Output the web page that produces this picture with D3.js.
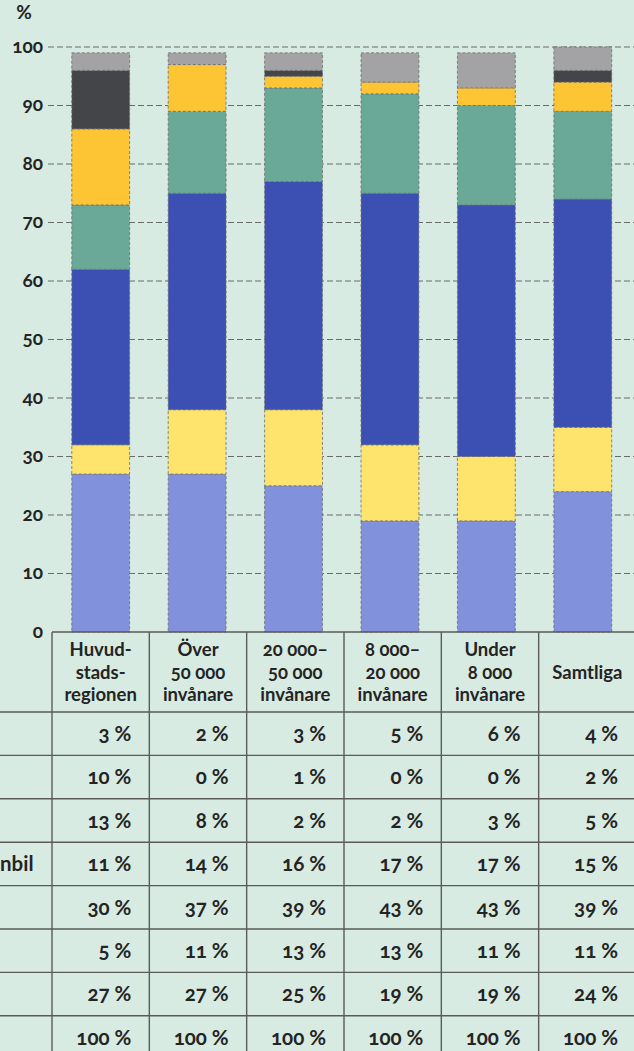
<!DOCTYPE html>
<html>
<head>
<meta charset="utf-8">
<script src="https://cdn.jsdelivr.net/npm/d3@7/dist/d3.min.js"></script>
<style>
  html, body { margin: 0; padding: 0; background: #d8ebe2; }
  svg { display: block; }
  text { font-family: "Lato", "Open Sans", sans-serif; fill: #242424; font-variant-numeric: oldstyle-nums; font-feature-settings: "onum" 1; }
</style>
</head>
<body>
<svg id="chart" width="634" height="1051"></svg>
<script>
// ---- data ----
const categories = ["Huvudstadsregionen", "Över 50 000 invånare", "20 000–50 000 invånare", "8 000–20 000 invånare", "Under 8 000 invånare", "Samtliga"];
const headerLines = [
  ["Huvud-", "stads-", "regionen"],
  ["Över", "50 000", "invånare"],
  ["20 000–", "50 000", "invånare"],
  ["8 000–", "20 000", "invånare"],
  ["Under", "8 000", "invånare"],
  ["Samtliga"]
];
// table rows, top to bottom (stack order is bottom to top = reversed)
const rowLabels = ["", "", "", "nbil", "", "", ""];
const series1 = [3, 2, 3, 5, 6, 4];       // gray
const series2 = [10, 0, 1, 0, 0, 2];      // dark gray
const series3 = [13, 8, 2, 2, 3, 5];      // orange yellow
const series4 = [11, 14, 16, 17, 17, 15]; // teal
const series5 = [30, 37, 39, 43, 43, 39]; // dark blue
const series6 = [5, 11, 13, 13, 11, 11];  // light yellow
const series7 = [27, 27, 25, 19, 19, 24]; // light blue
const totals = [100, 100, 100, 100, 100, 100];
const yTicks = [0, 10, 20, 30, 40, 50, 60, 70, 80, 90, 100];

const rows = [series1, series2, series3, series4, series5, series6, series7];
const colors = ["#a3a3a5", "#444548", "#fdc433", "#6aa997", "#3b50b2", "#fee36c", "#8191dc"];

// ---- layout ----
const svg = d3.select("#chart");
const y = d3.scaleLinear().domain([0, 100]).range([632, 47]);
const xBar = d3.scaleBand().domain(categories).range([52.5, 631]).paddingInner(0.4).paddingOuter(0.2);
const xCol = d3.scaleBand().domain(categories).range([52, 636]).padding(0);

// grid lines
svg.append("g").selectAll("line").data(yTicks.filter(d => d > 0)).join("line")
  .attr("x1", 48).attr("x2", 634)
  .attr("y1", d => y(d)).attr("y2", d => y(d))
  .attr("stroke", "#6a6a6a").attr("stroke-width", 1.1).attr("stroke-dasharray", "6,3");

// y axis labels
svg.append("g").selectAll("text").data(yTicks).join("text")
  .attr("x", 43).attr("y", d => y(d)).attr("dy", "0.3em")
  .attr("text-anchor", "end").attr("font-size", 19).attr("font-weight", 700)
  .text(d => d);
svg.append("text").attr("x", 24).attr("y", 19).attr("text-anchor", "middle")
  .attr("font-size", 19).attr("font-weight", 700).text("%");

// stacked bars (bottom = last row)
const stackOrder = rows.map((r, i) => ({ values: r, color: colors[i] })).reverse();
categories.forEach((cat, ci) => {
  let base = 0;
  stackOrder.forEach(s => {
    const v = s.values[ci];
    if (v > 0) {
      svg.append("rect")
        .attr("x", xBar(cat)).attr("width", xBar.bandwidth())
        .attr("y", y(base + v)).attr("height", y(base) - y(base + v))
        .attr("fill", s.color)
        .attr("stroke", "#6d6d6d").attr("stroke-width", 0.8).attr("stroke-dasharray", "3,2");
    }
    base += v;
  });
});

// ---- table ----
const headerTop = 632, headerBottom = 712, rowH = 43.4;
const tableRows = rows.concat([totals]);
const t = svg.append("g");
// horizontal lines
t.append("line").attr("x1", 52).attr("x2", 634).attr("y1", headerTop).attr("y2", headerTop)
  .attr("stroke", "#5a5a5a").attr("stroke-width", 1.4);
for (let r = 0; r < tableRows.length; r++) {
  const yy = headerBottom + r * rowH;
  t.append("line").attr("x1", 0).attr("x2", 634).attr("y1", yy).attr("y2", yy)
    .attr("stroke", "#5a5a5a").attr("stroke-width", 1.4);
}
// vertical lines
categories.forEach(cat => {
  t.append("line").attr("x1", xCol(cat)).attr("x2", xCol(cat))
    .attr("y1", headerTop).attr("y2", 1051)
    .attr("stroke", "#5a5a5a").attr("stroke-width", 1.4);
});
// header text
categories.forEach((cat, ci) => {
  const lines = headerLines[ci];
  const cx = xCol(cat) + xCol.bandwidth() / 2;
  const mid = (headerTop + headerBottom) / 2;
  const lh = 22.5;
  lines.forEach((ln, li) => {
    t.append("text").attr("x", cx)
      .attr("y", mid + (li - (lines.length - 1) / 2) * lh).attr("dy", "0.36em")
      .attr("text-anchor", "middle").attr("font-size", 18.5).attr("font-weight", 700)
      .text(ln);
  });
});
// body cells
tableRows.forEach((vals, ri) => {
  const cy = headerBottom + ri * rowH + rowH / 2;
  vals.forEach((v, ci) => {
    t.append("text").attr("x", xCol(categories[ci]) + xCol.bandwidth() - 18)
      .attr("y", cy).attr("dy", "0.36em")
      .attr("text-anchor", "end").attr("font-size", 20.5).attr("font-weight", 700)
      .text(v + " %");
  });
  if (ri < rowLabels.length && rowLabels[ri]) {
    t.append("text").attr("x", 0).attr("y", cy).attr("dy", "0.36em")
      .attr("font-size", 20.5).attr("font-weight", 700).text(rowLabels[ri]);
  }
});
</script>
</body>
</html>
